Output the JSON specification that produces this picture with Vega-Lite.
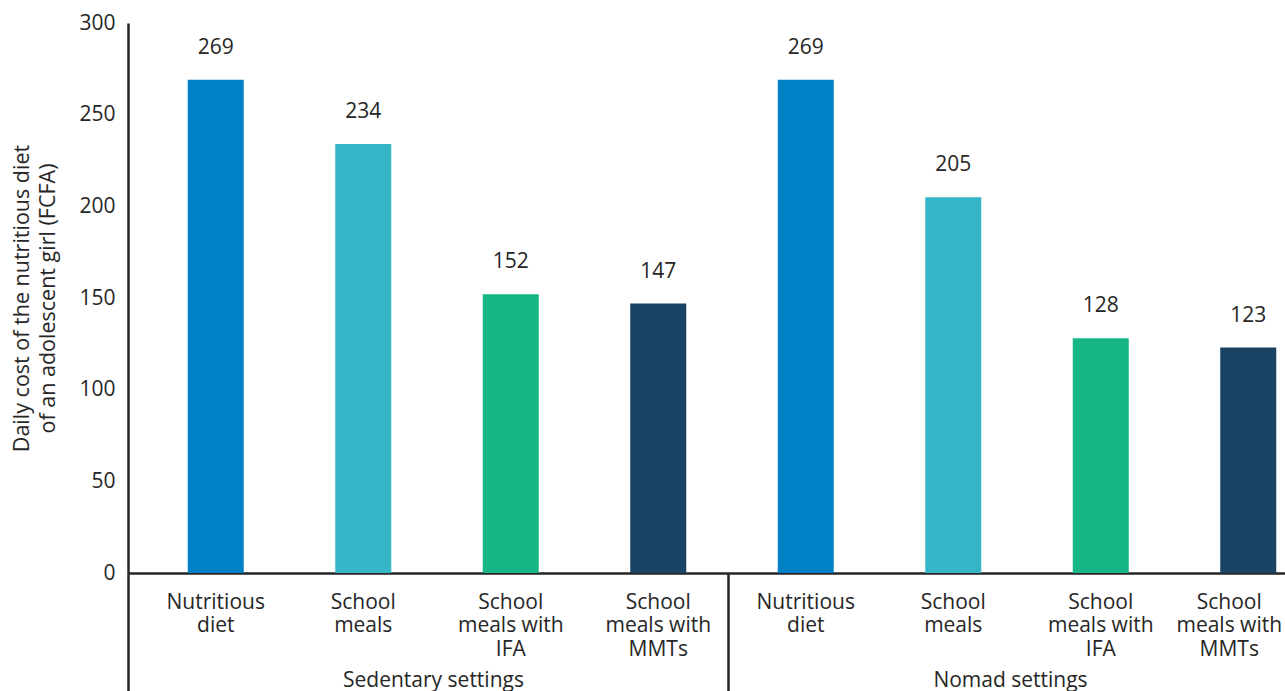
{
  "$schema": "https://vega.github.io/schema/vega-lite/v6.json",
  "width": 1157,
  "height": 550,
  "autosize": {"type": "none"},
  "padding": {"left": 128, "top": 23, "right": 0, "bottom": 118},
  "background": "white",
  "config": {
    "view": {"stroke": null},
    "font": "Open Sans",
    "axis": {"labelFont": "Open Sans", "titleFont": "Open Sans", "labelColor": "#262626", "titleColor": "#262626", "grid": false}
  },
  "data": {
    "values": [
      {"setting": "Sedentary settings", "category": "Nutritious diet", "bar": "Sedentary settings|Nutritious|diet", "cost": 269},
      {"setting": "Sedentary settings", "category": "School meals", "bar": "Sedentary settings|School|meals", "cost": 234},
      {"setting": "Sedentary settings", "category": "School meals with IFA", "bar": "Sedentary settings|School|meals with|IFA", "cost": 152},
      {"setting": "Sedentary settings", "category": "School meals with MMTs", "bar": "Sedentary settings|School|meals with|MMTs", "cost": 147},
      {"setting": "Nomad settings", "category": "Nutritious diet", "bar": "Nomad settings|Nutritious|diet", "cost": 269},
      {"setting": "Nomad settings", "category": "School meals", "bar": "Nomad settings|School|meals", "cost": 205},
      {"setting": "Nomad settings", "category": "School meals with IFA", "bar": "Nomad settings|School|meals with|IFA", "cost": 128},
      {"setting": "Nomad settings", "category": "School meals with MMTs", "bar": "Nomad settings|School|meals with|MMTs", "cost": 123}
    ]
  },
  "layer": [
    {
      "encoding": {
        "x": {
          "field": "bar",
          "type": "nominal",
          "sort": null,
          "scale": {"range": [14, 1194], "paddingInner": 0, "paddingOuter": 0},
          "axis": {
            "orient": "bottom",
            "title": null,
            "domain": false,
            "ticks": false,
            "labelExpr": "slice(split(datum.value, '|'), 1)",
            "labelFontSize": 21,
            "labelLineHeight": 23.5,
            "labelPadding": 18,
            "labelAngle": 0,
            "labelBaseline": "top",
            "labelLimit": 300,
            "labelOffset": {"condition": {"test": "datum.value === 'Nomad settings|School|meals with|MMTs'", "value": -19}, "value": 0}
          }
        },
        "y": {
          "field": "cost",
          "type": "quantitative",
          "scale": {"domain": [0, 300]},
          "axis": {
            "title": ["Daily cost of the nutritious diet", "of an adolescent girl (FCFA)"],
            "values": [0, 50, 100, 150, 200, 250, 300],
            "ticks": false,
            "domainColor": "#262626",
            "domainWidth": 2.5,
            "labelFontSize": 21,
            "labelPadding": 13,
            "titleFontSize": 21.5,
            "titleFontWeight": "normal",
            "titlePadding": 19,
            "titleLineHeight": 26
          }
        }
      },
      "layer": [
        {
          "mark": {"type": "bar", "width": 56},
          "encoding": {
            "color": {
              "field": "category",
              "type": "nominal",
              "scale": {
                "domain": ["Nutritious diet", "School meals", "School meals with IFA", "School meals with MMTs"],
                "range": ["#0081C6", "#35B6C6", "#18B586", "#1A4263"]
              },
              "legend": null
            }
          }
        },
        {
          "mark": {"type": "text", "dy": -32, "fontSize": 21, "color": "#262626", "baseline": "middle", "font": "Open Sans"},
          "encoding": {
            "text": {"field": "cost", "type": "quantitative"}
          }
        }
      ]
    },
    {
      "mark": {"type": "rule", "opacity": 0},
      "encoding": {
        "x": {
          "field": "setting",
          "type": "nominal",
          "sort": null,
          "scale": {"range": [0, 1200], "paddingInner": 0, "paddingOuter": 0},
          "axis": {
            "orient": "bottom",
            "title": null,
            "domain": true,
            "domainColor": "#262626",
            "domainWidth": 2.5,
            "tickBand": "extent",
            "ticks": true,
            "tickSize": 118,
            "tickWidth": 2.5,
            "tickColor": "#262626",
            "labelFontSize": 21,
            "labelPadding": -11,
            "labelBaseline": "middle",
            "labelAngle": 0,
            "labelLimit": 500,
            "labelOffset": {"condition": {"test": "datum.value === 'Nomad settings'", "value": -18}, "value": 5}
          }
        }
      }
    }
  ],
  "resolve": {"scale": {"x": "independent"}}
}
